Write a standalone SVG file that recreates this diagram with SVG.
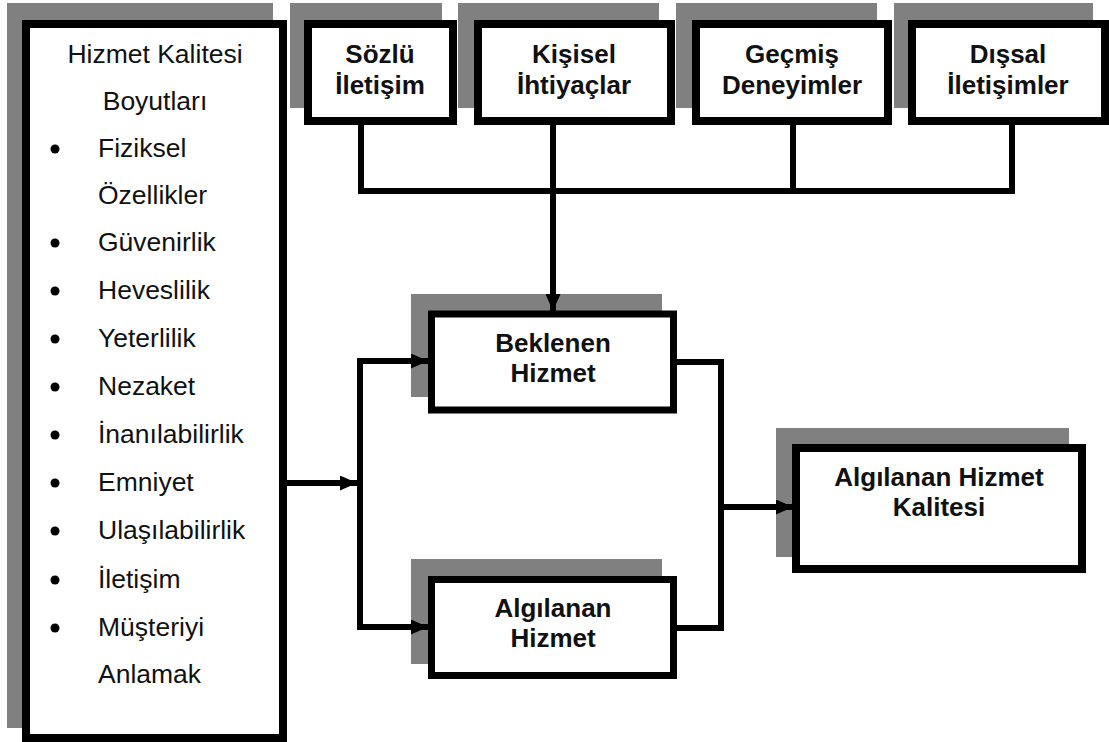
<svg xmlns="http://www.w3.org/2000/svg" width="1109" height="742" viewBox="0 0 1109 742">
<style>
.sh{fill:#808080;stroke:none}
.bx{fill:#fff;stroke:#000;stroke-width:8;stroke-linejoin:miter}
.bx2{fill:#fff;stroke:#000;stroke-width:7;stroke-linejoin:miter}
.t{font-family:"Liberation Sans",Arial,sans-serif;font-size:26.5px;fill:#111}
.b{font-family:"Liberation Sans",Arial,sans-serif;font-size:26px;font-weight:bold;fill:#111;text-anchor:middle}
.c{fill:none;stroke:#000;stroke-width:6;stroke-linejoin:miter;stroke-linecap:butt}
</style>
<defs>
<marker id="ah" markerUnits="userSpaceOnUse" markerWidth="17" markerHeight="15" refX="17" refY="7.5" orient="auto">
<path d="M0,0 L17,7.5 L0,15 z" fill="#000"/>
</marker>
</defs>
<rect width="1109" height="742" fill="#fff"/>

<g id="node-boyutlar">
<rect class="sh" x="7" y="3" width="266" height="725"/>
<rect class="bx" x="26" y="24" width="257" height="714"/>
<text class="t" x="155" y="63" text-anchor="middle">Hizmet Kalitesi</text>
<text class="t" x="155" y="110" text-anchor="middle">Boyutları</text>
<g fill="#000">
<circle cx="55" cy="149" r="4.5"/>
<circle cx="55" cy="243" r="4.5"/>
<circle cx="55" cy="291" r="4.5"/>
<circle cx="55" cy="339" r="4.5"/>
<circle cx="55" cy="387" r="4.5"/>
<circle cx="55" cy="435" r="4.5"/>
<circle cx="55" cy="483" r="4.5"/>
<circle cx="55" cy="531" r="4.5"/>
<circle cx="55" cy="580" r="4.5"/>
<circle cx="55" cy="628" r="4.5"/>
</g>
<text class="t" x="98" y="157">Fiziksel</text>
<text class="t" x="98" y="204">Özellikler</text>
<text class="t" x="98" y="251">Güvenirlik</text>
<text class="t" x="98" y="299">Heveslilik</text>
<text class="t" x="98" y="347">Yeterlilik</text>
<text class="t" x="98" y="395">Nezaket</text>
<text class="t" x="98" y="443">İnanılabilirlik</text>
<text class="t" x="98" y="491">Emniyet</text>
<text class="t" x="98" y="539">Ulaşılabilirlik</text>
<text class="t" x="98" y="588">İletişim</text>
<text class="t" x="98" y="636">Müşteriyi</text>
<text class="t" x="98" y="683">Anlamak</text>
</g>

<g id="node-sozlu">
<rect class="sh" x="290" y="3" width="152" height="105"/>
<rect class="bx" x="308" y="24" width="145" height="97"/>
<text class="b" x="380" y="63">Sözlü</text>
<text class="b" x="380" y="94">İletişim</text>
</g>

<g id="node-kisisel">
<rect class="sh" x="458" y="3" width="201" height="105"/>
<rect class="bx" x="478" y="24" width="193" height="97"/>
<text class="b" x="574" y="63">Kişisel</text>
<text class="b" x="574" y="94">İhtiyaçlar</text>
</g>

<g id="node-gecmis">
<rect class="sh" x="676" y="3" width="201" height="105"/>
<rect class="bx" x="696" y="24" width="192" height="97"/>
<text class="b" x="792" y="63">Geçmiş</text>
<text class="b" x="792" y="94">Deneyimler</text>
</g>

<g id="node-dissal">
<rect class="sh" x="894" y="3" width="199" height="105"/>
<rect class="bx" x="912" y="24" width="193" height="97"/>
<text class="b" x="1008" y="63">Dışsal</text>
<text class="b" x="1008" y="94">İletişimler</text>
</g>

<g id="node-beklenen">
<rect class="sh" x="411" y="294" width="251" height="103"/>
<rect class="bx2" x="431.5" y="314" width="242" height="96"/>
<text class="b" x="553" y="352">Beklenen</text>
<text class="b" x="553" y="382">Hizmet</text>
</g>

<g id="node-algilanan">
<rect class="sh" x="411" y="559" width="251" height="105"/>
<rect class="bx2" x="431.5" y="579.5" width="242" height="96"/>
<text class="b" x="553" y="617">Algılanan</text>
<text class="b" x="553" y="647">Hizmet</text>
</g>

<g id="node-kalite">
<rect class="sh" x="776" y="428" width="293" height="129"/>
<rect class="bx" x="796" y="448" width="286" height="121"/>
<text class="b" x="939" y="486">Algılanan Hizmet</text>
<text class="b" x="939" y="516">Kalitesi</text>
</g>

<g id="connectors">
<path class="c" d="M361,125 V191 H1012 V125"/>
<path class="c" d="M793,125 V191"/>
<path class="c" d="M553,125 V311" marker-end="url(#ah)"/>
<path class="c" d="M287,483 H357" marker-end="url(#ah)"/>
<path class="c" d="M428,361 H360 V627 H428"/>
<path class="c" d="M360,361 H428" marker-end="url(#ah)"/>
<path class="c" d="M360,627 H428" marker-end="url(#ah)"/>
<path class="c" d="M677,362 H721 V628 H677"/>
<path class="c" d="M721,507 H793" marker-end="url(#ah)"/>
</g>
</svg>
